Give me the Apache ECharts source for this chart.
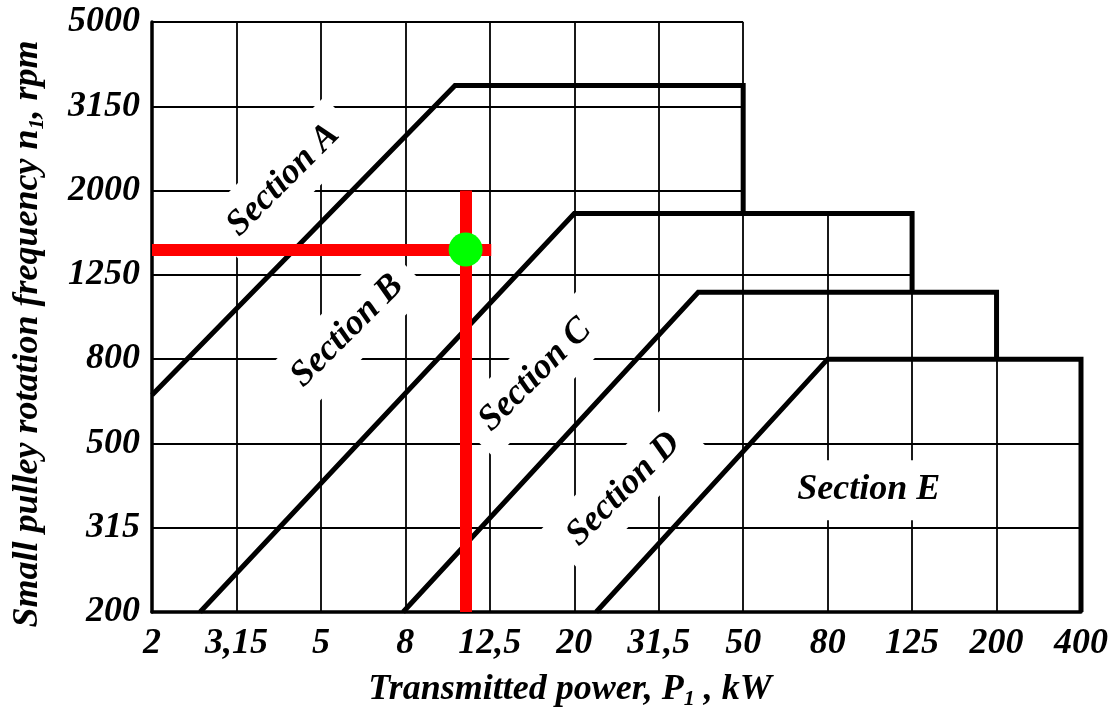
<!DOCTYPE html>
<html>
<head>
<meta charset="utf-8">
<script src="https://cdn.jsdelivr.net/npm/echarts@6/dist/echarts.min.js"></script>
<style>
html,body{margin:0;padding:0;background:#fff;}
#chart{width:1120px;height:718px;}
</style>
</head>
<body>
<div id="chart"></div>
<script>
// ---- Data ----
const X_TICKS = [2, 3.15, 5, 8, 12.5, 20, 31.5, 50, 80, 125, 200, 400];      // kW
const Y_TICKS = [200, 315, 500, 800, 1250, 2000, 3150, 5000];                  // rpm

// Section boundary polylines [power kW, speed rpm]
const BOUNDARY_AB = [[2, 655], [10.4, 3530], [50, 3530], [50, 1760]];
const BOUNDARY_BC = [[2.59, 200], [20, 1760], [125, 1760], [125, 1140]];
const BOUNDARY_CD = [[7.9, 200], [39.1, 1140], [200, 1140], [200, 800]];
const BOUNDARY_DE = [[22.5, 200], [80, 800], [400, 800], [400, 200]];

// Section labels
const SECTION_NAMES = ['Section A', 'Section B', 'Section C', 'Section D', 'Section E'];
const SECTION_LABEL_POS = [[4.07, 2117], [5.79, 929], [16.1, 732], [26.1, 389], [99.4, 387]];
const SECTION_LABEL_ROT = [45, 45, 45, 45, 0];

// Example selection point
const SELECT_POINT = [11, 1440];          // kW, rpm
const SELECT_V_RANGE = [200, 2000];       // rpm span of vertical marker line
const SELECT_H_RANGE = [2, 12.6];         // kW span of horizontal marker line

// ---- Scale helpers (piecewise-logarithmic between tick values) ----
function toIdx(v, ticks) {
  for (let i = 0; i < ticks.length - 1; i++) {
    if (v <= ticks[i + 1]) {
      return i + Math.log(v / ticks[i]) / Math.log(ticks[i + 1] / ticks[i]);
    }
  }
  return ticks.length - 1;
}
const px = v => toIdx(v, X_TICKS);
const py = v => toIdx(v, Y_TICKS);
const pt = p => [px(p[0]), py(p[1])];

const BOUNDARIES = [BOUNDARY_AB, BOUNDARY_BC, BOUNDARY_CD, BOUNDARY_DE];
const XMAX = X_TICKS.length - 1, YMAX = Y_TICKS.length - 1;

// stepped grid extents, derived from the right-hand verticals of each boundary
const steps = BOUNDARIES.map(b => ({ x: b[b.length - 1][0], yBottom: b[b.length - 1][1] }));
function rightLimit(v) {
  for (const s of steps) if (v > s.yBottom) return s.x;
  return null;
}
function topLimit(x) {
  for (let k = 0; k < steps.length; k++) {
    if (x <= steps[k].x) return k === 0 ? Y_TICKS[YMAX] : steps[k - 1].yBottom;
  }
  return null;
}
const gridSegs = [];
Y_TICKS.forEach((v, j) => {
  if (j === 0) return;
  const r = rightLimit(v);
  if (r != null) gridSegs.push({ coords: [[0, j], [px(r), j]] });
});
X_TICKS.forEach((x, i) => {
  if (i === 0) return;
  const t = topLimit(x);
  if (t != null) gridSegs.push({ coords: [[i, 0], [i, py(t)]] });
});

const FONT = "'Liberation Serif', 'Times New Roman', serif";
const txt = { fontFamily: FONT, fontStyle: 'italic', fontWeight: 'bold', color: '#000' };

const chart = echarts.init(document.getElementById('chart'), null, { renderer: 'canvas' });
chart.setOption({
  animation: false,
  backgroundColor: '#fff',
  grid: { left: 152, right: 39, top: 22, bottom: 106 },
  xAxis: {
    type: 'value', min: 0, max: XMAX, interval: 1,
    axisLine: { show: true, lineStyle: { color: '#000', width: 3.5 } },
    axisTick: { show: false },
    splitLine: { show: false },
    axisLabel: Object.assign({
      fontSize: 36, margin: 14,
      formatter: v => String(X_TICKS[Math.round(v)]).replace('.', ',')
    }, txt)
  },
  yAxis: {
    type: 'value', min: 0, max: YMAX, interval: 1,
    axisLine: { show: true, lineStyle: { color: '#000', width: 3.5 } },
    axisTick: { show: false },
    splitLine: { show: false },
    axisLabel: Object.assign({
      fontSize: 36, margin: 12,
      formatter: v => String(Y_TICKS[Math.round(v)])
    }, txt)
  },
  graphic: [
    {
      type: 'text', x: 570, y: 690, z: 10,
      style: {
        text: '{n|Transmitted power, P}{s|1}{n| , kW}',
        align: 'center', verticalAlign: 'middle',
        rich: {
          n: Object.assign({ fontSize: 36, lineHeight: 40, verticalAlign: 'middle' }, txt, { fill: '#000' }),
          s: Object.assign({ fontSize: 22, lineHeight: 22, verticalAlign: 'bottom' }, txt, { fill: '#000' })
        }
      }
    },
    {
      type: 'text', x: 28, y: 334, rotation: Math.PI / 2, z: 10,
      style: {
        text: '{n|Small pulley rotation frequency n}{s|1}{n|, rpm}',
        align: 'center', verticalAlign: 'middle',
        rich: {
          n: Object.assign({ fontSize: 36, lineHeight: 40, verticalAlign: 'middle' }, txt, { fill: '#000' }),
          s: Object.assign({ fontSize: 22, lineHeight: 22, verticalAlign: 'bottom' }, txt, { fill: '#000' })
        }
      }
    }
  ],
  series: [
    {
      name: 'grid', type: 'lines', coordinateSystem: 'cartesian2d', z: 1,
      silent: true, polyline: false,
      lineStyle: { color: '#000', width: 1.8, opacity: 1, cap: 'butt' },
      data: gridSegs
    },
    {
      name: 'labels', type: 'scatter', z: 2, symbolSize: 0, silent: true,
      itemStyle: { opacity: 1, color: '#000' },
      data: SECTION_NAMES.map((n, i) => ({
        name: n,
        value: pt(SECTION_LABEL_POS[i]),
        label: { rotate: SECTION_LABEL_ROT[i] }
      })),
      label: Object.assign({
        show: true, position: 'inside', formatter: p => p.name,
        fontSize: 36, backgroundColor: '#fff', padding: [12, 16], opacity: 1,
        align: 'center', verticalAlign: 'middle'
      }, txt)
    },
    {
      name: 'boundaries', type: 'lines', coordinateSystem: 'cartesian2d', z: 3,
      silent: true, polyline: true,
      lineStyle: { color: '#000', width: 5, opacity: 1, join: 'miter', cap: 'butt' },
      data: BOUNDARIES.map(b => ({ coords: b.map(pt) }))
    },
    {
      name: 'selection', type: 'lines', coordinateSystem: 'cartesian2d', z: 4,
      silent: true, polyline: false,
      lineStyle: { color: '#ff0000', width: 12, opacity: 1, cap: 'butt' },
      data: [
        { coords: [pt([SELECT_H_RANGE[0], SELECT_POINT[1]]), pt([SELECT_H_RANGE[1], SELECT_POINT[1]])] },
        { coords: [pt([SELECT_POINT[0], SELECT_V_RANGE[0]]), pt([SELECT_POINT[0], SELECT_V_RANGE[1]])] }
      ]
    },
    {
      name: 'point', type: 'scatter', z: 5, silent: true,
      symbol: 'circle', symbolSize: 34,
      itemStyle: { color: '#00ff00', opacity: 1 },
      data: [pt(SELECT_POINT)]
    }
  ]
});
</script>
</body>
</html>
